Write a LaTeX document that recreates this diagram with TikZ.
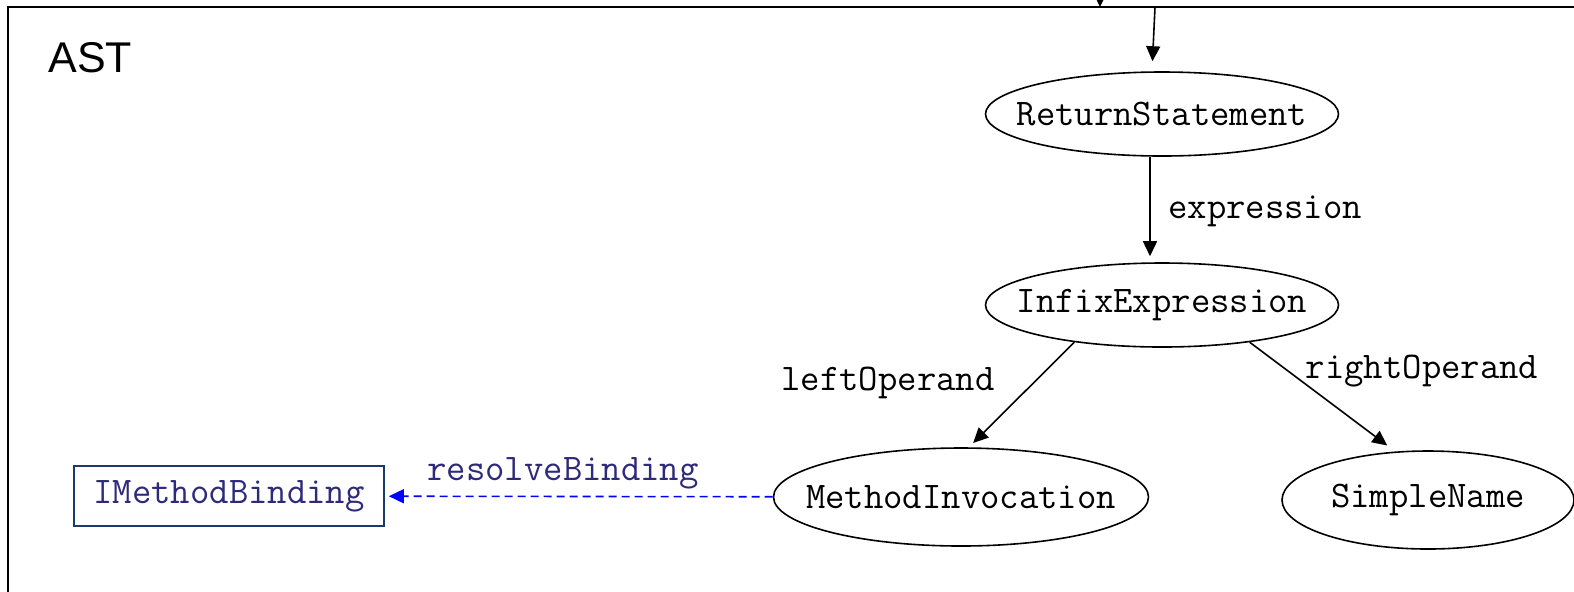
\documentclass[tikz,border=0pt]{standalone}
\usepackage{fontspec}
\setmainfont{Liberation Sans}
\setsansfont{Liberation Sans}
\usetikzlibrary{arrows.meta}
\usetikzlibrary{shapes.geometric}
\definecolor{bindText}{RGB}{46,42,122}
\definecolor{bindFrame}{RGB}{26,58,106}
\newcommand{\astName}[1]{\makebox[0pt]{#1}}

\begin{document}
\begin{tikzpicture}[x = 0.5pt, y = -0.5pt, font = \ttfamily\fontsize{18.8}{21}\selectfont, >={Triangle[length=7.5pt, width=7pt]}]
	\tikzstyle{astStyle}=[shape = ellipse, draw, line width = 0.8pt, inner sep = 0pt]
	\tikzstyle{bindingStyle}=[shape = rectangle, draw = bindFrame, text = bindText, line width = 0.8pt, minimum width = 155pt, minimum height = 30pt, inner sep = 0pt]
	\tikzstyle{edgeStyle}=[->, line width = 0.8pt, shorten > = 3pt]
	\tikzstyle{labelStyle}=[inner sep = 0pt]
	\useasboundingbox (0,0) rectangle (1574,591);
	\clip (0,0) rectangle (1574,591);
	\draw[line width = 1pt] (8,7) rectangle (1600,620);
	\node[font = \sffamily\fontsize{21.5}{25}\selectfont, anchor = base west, inner sep = 0pt] (ast) at (48,72) {AST};
	\node[astStyle, minimum width = 176.5pt, minimum height = 42pt] (ret) at (1162,114) {\astName{ReturnStatement}};
	\node[astStyle, minimum width = 176.5pt, minimum height = 42pt] (infix) at (1162,305) {\astName{InfixExpression}};
	\node[astStyle, minimum width = 187.5pt, minimum height = 49pt] (meth) at (961,497) {\astName{MethodInvocation}};
	\node[astStyle, minimum width = 146pt, minimum height = 49pt] (simple) at (1428,500) {\astName{SimpleName}};
	\node[bindingStyle] (bind) at (229,496) {IMethodBinding};
	\coordinate (outer) at (1100,-40);
	\coordinate (outerEnd) at (1100,7);
	\coordinate (entry) at (1155,7);
	\draw[edgeStyle, shorten > = 0pt] (outer) -- (outerEnd);
	\draw[edgeStyle, shorten > = 5pt] (entry) -- ([xshift = -5pt]ret.north);
	\draw[edgeStyle] ([xshift = -6pt]ret.south) -- ([xshift = -6pt]infix.north);
	\draw[edgeStyle] (infix.203) -- (meth.81);
	\draw[edgeStyle, shorten > = 5pt] (infix.337) -- (simple.124);
	\draw[edgeStyle, blue, dash pattern = on 4pt off 2.5pt, shorten > = 2pt] (meth) -- (bind);
	\node[labelStyle, anchor = west] (lblExpr) at (1168,211) {expression};
	\node[labelStyle] (lblLeft) at (888,383) {leftOperand};
	\node[labelStyle] (lblRight) at (1422,371) {rightOperand};
	\node[labelStyle, text = bindText] (lblResolve) at (563,473) {resolveBinding};
\end{tikzpicture}
\end{document}
